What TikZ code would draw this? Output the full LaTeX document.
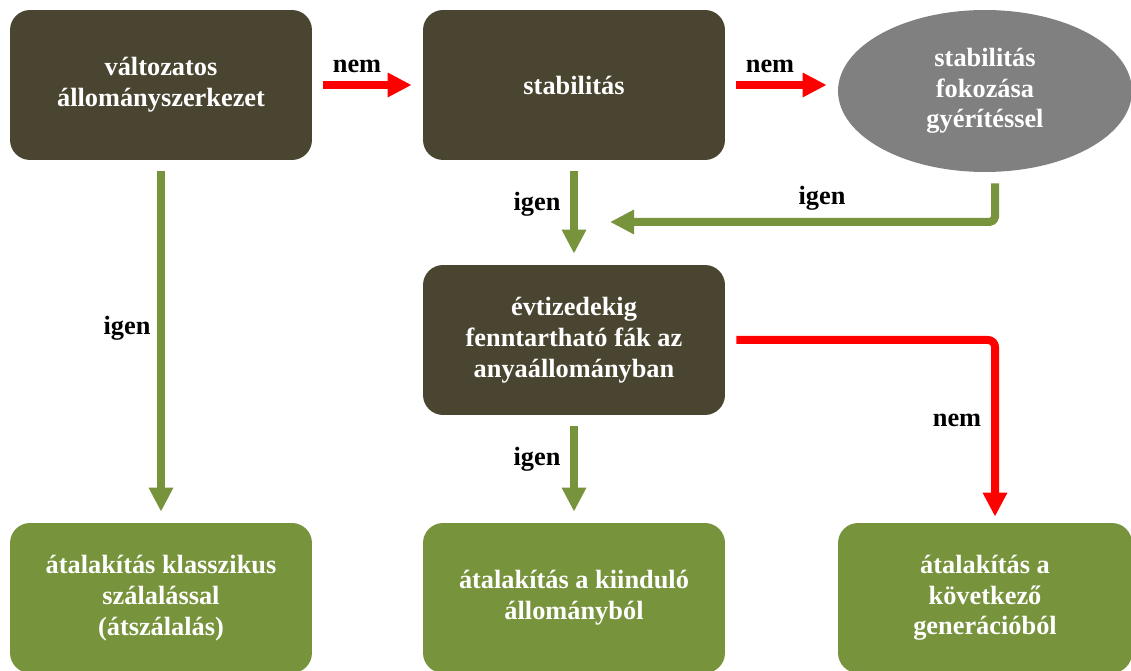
\documentclass[tikz,border=0pt]{standalone}
\usepackage{fontspec}
\setmainfont{Liberation Serif}
\usetikzlibrary{arrows.meta,shapes.geometric,calc}
\definecolor{boxbrown}{HTML}{4A4530}
\definecolor{boxgreen}{HTML}{77933C}
\definecolor{ovalgray}{HTML}{808080}
\tikzset{
         darkbox/.style={rectangle, rounded corners=0.4cm, fill=boxbrown, text=white,
                         minimum width=6.04cm, minimum height=3cm, align=center,
                         font=\bfseries\fontsize{15}{17.5}\selectfont},
         greenbox/.style={darkbox, fill=boxgreen},
         grayoval/.style={ellipse, fill=ovalgray, text=white, inner sep=0pt,
                          minimum width=5.88cm, minimum height=3.24cm, align=center,
                          font=\bfseries\fontsize{15}{17.5}\selectfont},
         lbl/.style={font=\bfseries\fontsize{15}{17.5}\selectfont},
         yesarrow/.style={draw=boxgreen, line width=0.16cm, line join=round,
                          -{Triangle[length=0.48cm,width=0.46cm]},
                          shorten <=0.22cm, shorten >=0.22cm},
         noarrow/.style={yesarrow, draw=red}
        }
\begin{document}
\begin{tikzpicture}[x=0.02cm,y=-0.02cm]
      \useasboundingbox (0,0) rectangle (1131,671); % picture frame
      \node[darkbox] (mix) at (161,85) {változatos\\állományszerkezet}; % top left box
      \node[darkbox] (stab) at (574,85) {stabilitás}; % top middle box
      \node[grayoval] (thin) at (985,91) {stabilitás\\fokozása\\gyérítéssel}; % top right oval
      \node[darkbox] (keep) at (574,340) {évtizedekig\\fenntartható fák az\\anyaállományban}; % middle box
      \node[greenbox] (classic) at (161,598) {átalakítás klasszikus\\szálalással\\(átszálalás)}; % bottom left box
      \node[greenbox] (start) at (574,598) {átalakítás a kiinduló\\állományból}; % bottom middle box
      \node[greenbox, minimum width=5.88cm] (next) at (985,598) {átalakítás a\\következő\\generációból}; % bottom right box
      \coordinate (join) at (610,222); % end of the igen arrow from the oval
      \draw[noarrow] (mix.east) -- (stab.west); % nem
      \draw[noarrow] (stab.east) -- (stab.east -| thin.west); % nem
      \draw[yesarrow] (stab.south) -- (keep.north); % igen
      \draw[yesarrow, shorten >=0pt, rounded corners=3] ([xshift=0.2cm]thin.south) |- (join); % igen
      \draw[yesarrow] (mix.south) -- (classic.north); % igen
      \draw[yesarrow] (keep.south) -- (start.north); % igen
      \draw[noarrow, shorten >=0.12cm, rounded corners=4] (keep.east) -| ([xshift=0.2cm]next.north); % nem
      \node[lbl] at (357,66) {nem}; % label
      \node[lbl] at (770,66) {nem}; % label
      \node[lbl] at (537,204) {igen}; % label
      \node[lbl] at (822,198) {igen}; % label
      \node[lbl] at (127,328) {igen}; % label
      \node[lbl] at (537,459) {igen}; % label
      \node[lbl] at (957,420) {nem}; % label
\end{tikzpicture}
\end{document}
